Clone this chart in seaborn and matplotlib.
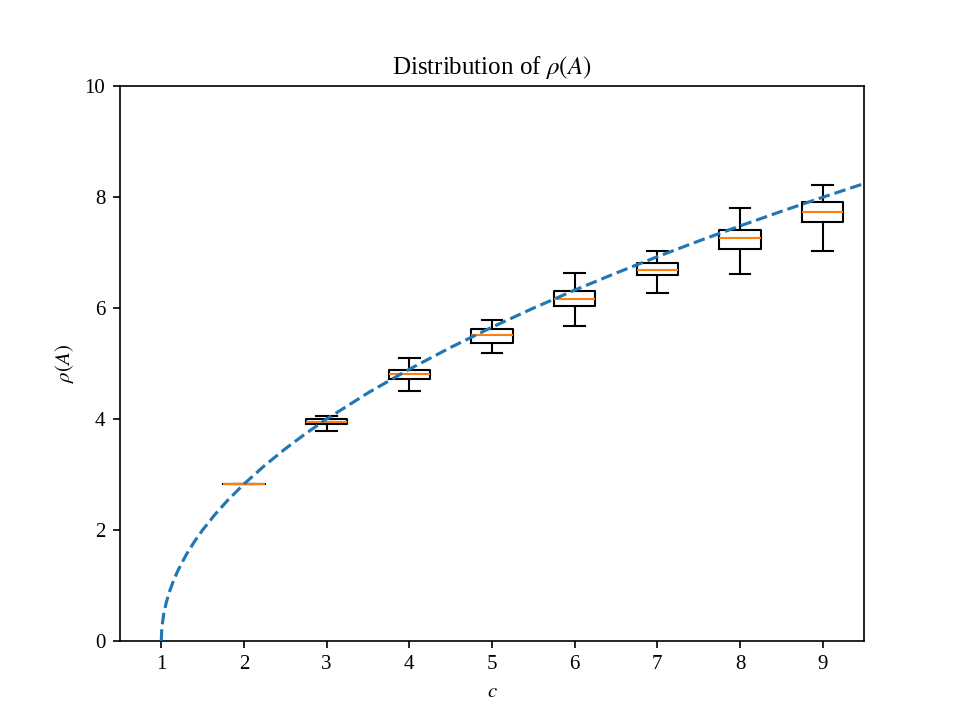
import numpy as np
import pandas as pd
import seaborn as sns
import matplotlib
matplotlib.use("Agg")
import matplotlib.pyplot as plt

# box data per c: [min, q1, median, q3, max]
c_values = [2, 3, 4, 5, 6, 7, 8, 9]
box_min = [2.83, 3.79, 4.51, 5.20, 5.68, 6.27, 6.62, 7.04]
box_q1 = [2.83, 3.905, 4.72, 5.38, 6.045, 6.60, 7.06, 7.55]
box_med = [2.83, 3.946, 4.81, 5.52, 6.165, 6.69, 7.27, 7.74]
box_q3 = [2.83, 3.995, 4.885, 5.62, 6.315, 6.82, 7.41, 7.91]
box_max = [2.83, 4.055, 5.11, 5.786, 6.63, 7.03, 7.80, 8.22]

# dashed reference curve
curve_x = [1.0, 1.003, 1.01, 1.03, 1.06, 1.1, 1.15, 1.2, 1.3, 1.4, 1.5, 1.65, 1.8,
           2.0, 2.25, 2.5, 2.75, 3.0, 3.5, 4.0, 4.5, 5.0, 5.5, 6.0, 6.5, 7.0,
           7.5, 8.0, 8.5, 9.0, 9.5]
curve_y = [0.0, 0.155, 0.283, 0.490, 0.693, 0.894, 1.095, 1.265, 1.549, 1.789, 2.0,
           2.280, 2.530, 2.828, 3.162, 3.464, 3.742, 4.0, 4.472, 4.899, 5.292,
           5.657, 6.0, 6.325, 6.633, 6.928, 7.211, 7.483, 7.746, 8.0, 8.246]

xticks = [1, 2, 3, 4, 5, 6, 7, 8, 9]

rows = []
for i, c in enumerate(c_values):
    for v in (box_min[i], box_q1[i], box_med[i], box_q3[i], box_max[i]):
        rows.append({"c": c, "rho": v})
df = pd.DataFrame(rows)

plt.rcParams["font.family"] = ["Liberation Serif", "DejaVu Serif"]
plt.rcParams["mathtext.fontset"] = "stix"

fig, ax = plt.subplots(figsize=(6.4, 4.8), dpi=150)

sns.boxplot(data=df, x="c", y="rho", native_scale=True, width=0.5, whis=(0, 100),
            fill=False, color="black", linewidth=1.0, ax=ax,
            medianprops={"color": "#ff7f0e", "linewidth": 1.0, "zorder": 3})

sns.lineplot(x=curve_x, y=curve_y, ax=ax, color="#1f77b4", linestyle="--",
             linewidth=1.5, sort=False, zorder=4)

ax.set_xlim(0.5, 9.5)
ax.set_ylim(0, 10)
ax.set_xticks(xticks)
ax.set_xticklabels([str(t) for t in xticks])
ax.set_yticks([0, 2, 4, 6, 8, 10])
ax.set_xlabel("$c$")
ax.set_ylabel(r"$\rho(A)$")
ax.set_title(r"Distribution of $\rho(A)$")
ax.grid(False)

fig.savefig("out.png", dpi=150)
